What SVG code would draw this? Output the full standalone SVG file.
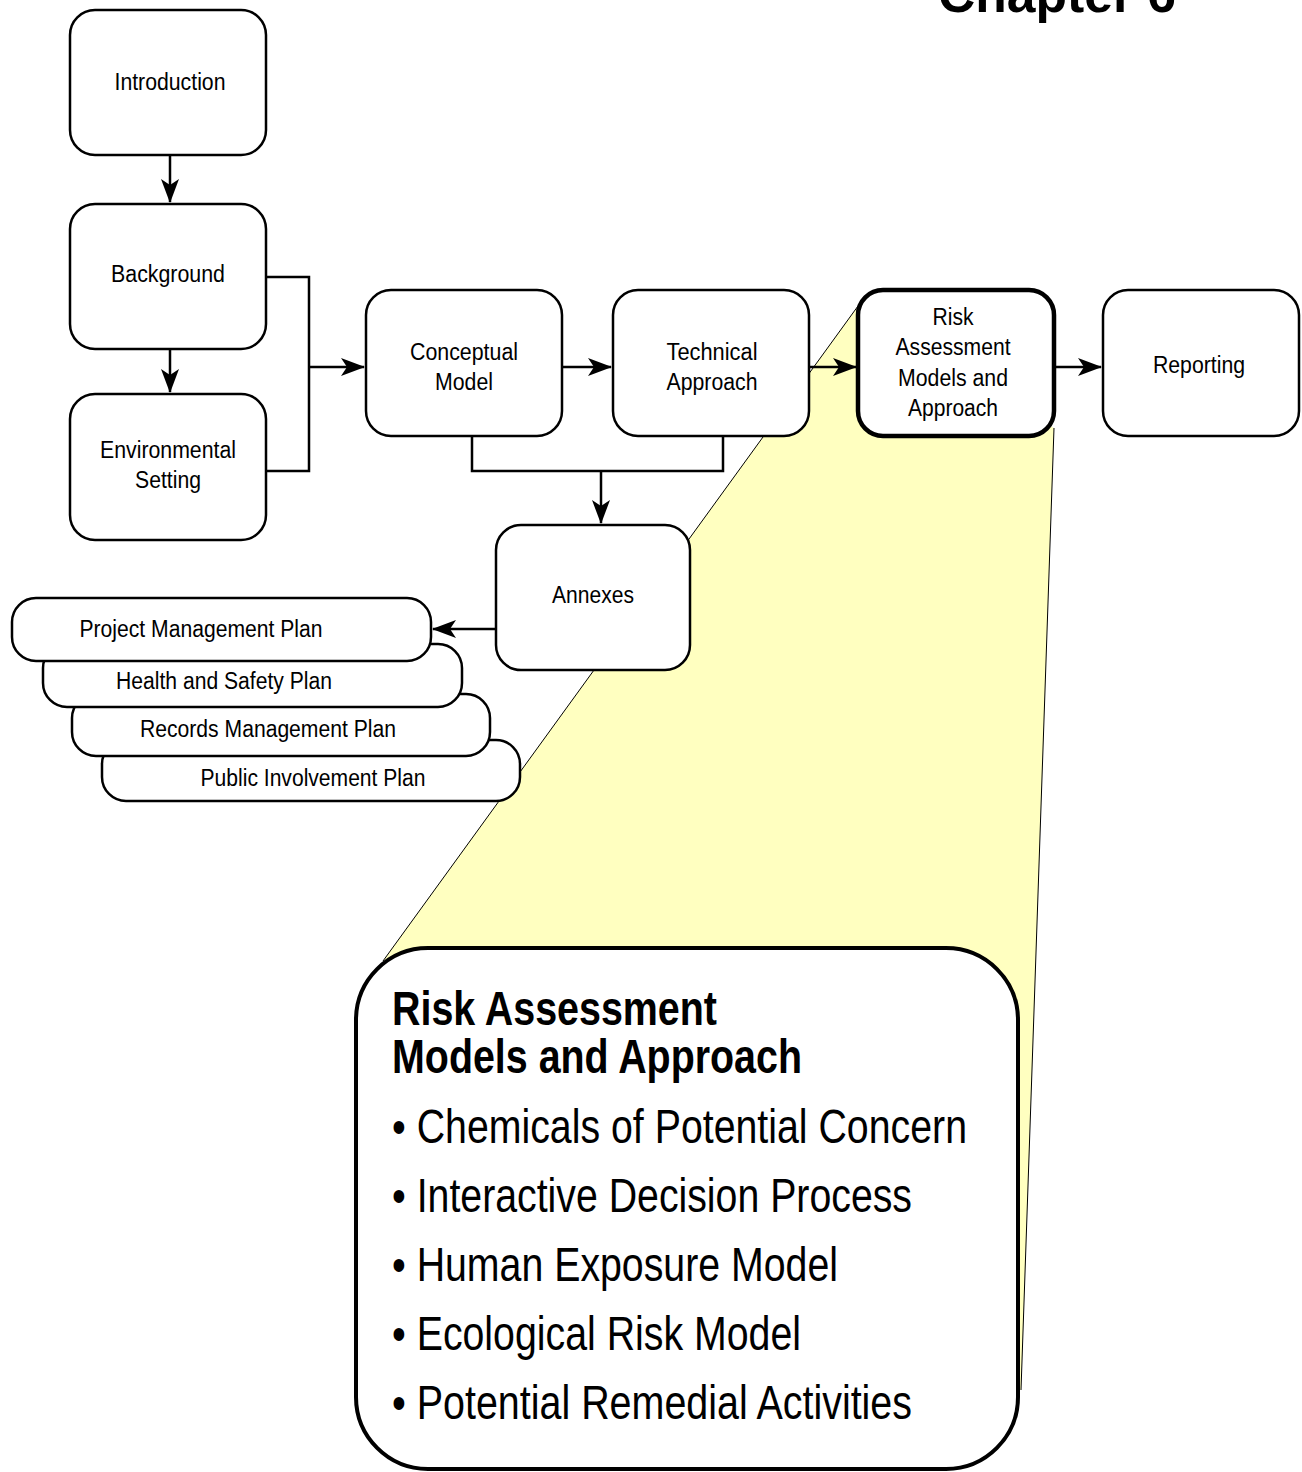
<svg xmlns="http://www.w3.org/2000/svg" width="1302" height="1472" viewBox="0 0 1302 1472">
  <style>
    .box { fill: #fff; stroke: #000; stroke-width: 2.5; }
    .bold-box { fill: #fff; stroke: #000; stroke-width: 4.5; }
    .lbl { font-family: "Liberation Sans", Arial, sans-serif; font-size: 23px; fill: #000; text-anchor: middle; }
    .wire { fill: none; stroke: #000; stroke-width: 2.5; }
    .edge { fill: none; stroke: #000; stroke-width: 1; }
    .big { font-family: "Liberation Sans", Arial, sans-serif; font-size: 48px; fill: #000; }
  </style>
  <defs>
    <marker id="arrow" viewBox="0 0 24 18" refX="23" refY="9" markerWidth="24" markerHeight="18" markerUnits="userSpaceOnUse" orient="auto">
      <path d="M0,0 L24,9 L0,18 L6,9 Z" fill="#000"/>
    </marker>
  </defs>

  <!-- chapter heading, partly above the page edge -->
  <text x="938" y="12" font-family="Liberation Sans, Arial, sans-serif" font-weight="bold" font-size="52" textLength="238" lengthAdjust="spacingAndGlyphs">Chapter 6</text>

  <!-- yellow callout expanding the Risk Assessment step -->
  <g id="callout">
    <polygon points="858,306 1054,428 1021,1390 383,961" fill="#ffffc0"/>
    <line class="edge" x1="858" y1="306" x2="383" y2="961"/>
    <line class="edge" x1="1054" y1="428" x2="1021" y2="1390"/>
  </g>

  <!-- connectors -->
  <g id="connectors">
    <line class="wire" x1="170" y1="155" x2="170" y2="202" marker-end="url(#arrow)"/>
    <line class="wire" x1="170" y1="349" x2="170" y2="392" marker-end="url(#arrow)"/>
    <polyline class="wire" points="266,277 309,277 309,471 266,471"/>
    <line class="wire" x1="309" y1="367" x2="364" y2="367" marker-end="url(#arrow)"/>
    <line class="wire" x1="562" y1="367" x2="611" y2="367" marker-end="url(#arrow)"/>
    <line class="wire" x1="809" y1="367" x2="856" y2="367" marker-end="url(#arrow)"/>
    <line class="wire" x1="1054" y1="367" x2="1101" y2="367" marker-end="url(#arrow)"/>
    <polyline class="wire" points="472,436 472,471 723,471 723,436"/>
    <line class="wire" x1="601" y1="471" x2="601" y2="523" marker-end="url(#arrow)"/>
    <line class="wire" x1="496" y1="629" x2="433" y2="629" marker-end="url(#arrow)"/>
  </g>

  <g id="introduction">
    <rect class="box" x="70" y="10" width="196" height="145" rx="25"/>
    <text class="lbl" x="170" y="90" textLength="111" lengthAdjust="spacingAndGlyphs">Introduction</text>
  </g>
  <g id="background">
    <rect class="box" x="70" y="204" width="196" height="145" rx="25"/>
    <text class="lbl" x="168" y="282" textLength="114" lengthAdjust="spacingAndGlyphs">Background</text>
  </g>
  <g id="environmental-setting">
    <rect class="box" x="70" y="394" width="196" height="146" rx="25"/>
    <text class="lbl" x="168" y="458" textLength="136" lengthAdjust="spacingAndGlyphs">Environmental</text>
    <text class="lbl" x="168" y="488" textLength="66" lengthAdjust="spacingAndGlyphs">Setting</text>
  </g>
  <g id="conceptual-model">
    <rect class="box" x="366" y="290" width="196" height="146" rx="25"/>
    <text class="lbl" x="464" y="360" textLength="108" lengthAdjust="spacingAndGlyphs">Conceptual</text>
    <text class="lbl" x="464" y="390" textLength="58" lengthAdjust="spacingAndGlyphs">Model</text>
  </g>
  <g id="technical-approach">
    <rect class="box" x="613" y="290" width="196" height="146" rx="25"/>
    <text class="lbl" x="712" y="360" textLength="91" lengthAdjust="spacingAndGlyphs">Technical</text>
    <text class="lbl" x="712" y="390" textLength="91" lengthAdjust="spacingAndGlyphs">Approach</text>
  </g>
  <g id="risk-assessment">
    <rect class="bold-box" x="858" y="290" width="196" height="146" rx="25"/>
    <text class="lbl" x="953" y="325" textLength="41" lengthAdjust="spacingAndGlyphs">Risk</text>
    <text class="lbl" x="953" y="355" textLength="115" lengthAdjust="spacingAndGlyphs">Assessment</text>
    <text class="lbl" x="953" y="386" textLength="110" lengthAdjust="spacingAndGlyphs">Models and</text>
    <text class="lbl" x="953" y="416" textLength="90" lengthAdjust="spacingAndGlyphs">Approach</text>
  </g>
  <g id="reporting">
    <rect class="box" x="1103" y="290" width="196" height="146" rx="25"/>
    <text class="lbl" x="1199" y="373" textLength="92" lengthAdjust="spacingAndGlyphs">Reporting</text>
  </g>
  <g id="annexes">
    <rect class="box" x="496" y="525" width="194" height="145" rx="25"/>
    <text class="lbl" x="593" y="603" textLength="82" lengthAdjust="spacingAndGlyphs">Annexes</text>
  </g>

  <!-- stacked annex plans, back to front -->
  <g id="public-involvement-plan">
    <rect class="box" x="102" y="740" width="418" height="61" rx="24"/>
    <text class="lbl" x="313" y="786" textLength="225" lengthAdjust="spacingAndGlyphs">Public Involvement Plan</text>
  </g>
  <g id="records-management-plan">
    <rect class="box" x="72" y="694" width="418" height="62" rx="24"/>
    <text class="lbl" x="268" y="737" textLength="256" lengthAdjust="spacingAndGlyphs">Records Management Plan</text>
  </g>
  <g id="health-safety-plan">
    <rect class="box" x="43" y="644" width="419" height="63" rx="24"/>
    <text class="lbl" x="224" y="689" textLength="216" lengthAdjust="spacingAndGlyphs">Health and Safety Plan</text>
  </g>
  <g id="project-management-plan">
    <rect class="box" x="12" y="598" width="419" height="63" rx="24"/>
    <text class="lbl" x="201" y="637" textLength="243" lengthAdjust="spacingAndGlyphs">Project Management Plan</text>
  </g>

  <!-- detail panel -->
  <g id="risk-detail">
    <rect x="356" y="948" width="662" height="521" rx="72" fill="#fff" stroke="#000" stroke-width="4"/>
    <text class="big" x="392" y="1025" font-weight="bold" textLength="325" lengthAdjust="spacingAndGlyphs">Risk Assessment</text>
    <text class="big" x="392" y="1073" font-weight="bold" textLength="410" lengthAdjust="spacingAndGlyphs">Models and Approach</text>
    <text class="big" x="392" y="1143" textLength="575" lengthAdjust="spacingAndGlyphs">• Chemicals of Potential Concern</text>
    <text class="big" x="392" y="1212" textLength="520" lengthAdjust="spacingAndGlyphs">• Interactive Decision Process</text>
    <text class="big" x="392" y="1281" textLength="446" lengthAdjust="spacingAndGlyphs">• Human Exposure Model</text>
    <text class="big" x="392" y="1350" textLength="409" lengthAdjust="spacingAndGlyphs">• Ecological Risk Model</text>
    <text class="big" x="392" y="1419" textLength="520" lengthAdjust="spacingAndGlyphs">• Potential Remedial Activities</text>
  </g>
</svg>
